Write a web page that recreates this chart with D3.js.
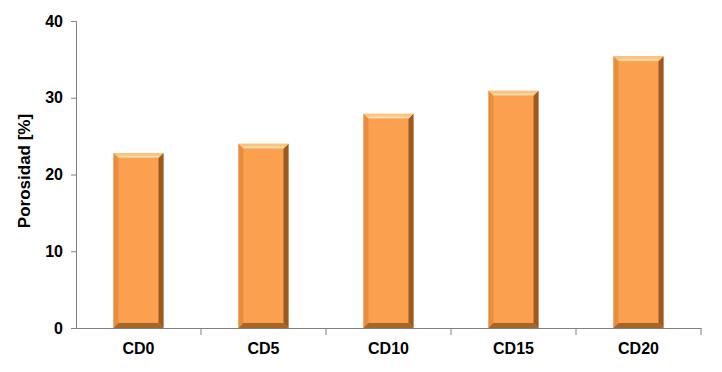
<!DOCTYPE html>
<html>
<head>
<meta charset="utf-8">
<script src="https://cdn.jsdelivr.net/npm/d3@7"></script>
<style>
  body { margin: 0; background: #fff; }
  svg text { font-family: "Liberation Sans", Arial, sans-serif; font-weight: bold; fill: #000; }
</style>
</head>
<body>
<svg id="chart" width="722" height="372"></svg>
<script>
  // values
  var categories = ["CD0", "CD5", "CD10", "CD15", "CD20"];
  var porosidad = [22.8, 24.0, 27.9, 30.9, 35.4];
  var yTicks = [0, 10, 20, 30, 40];

  (function() {
  var svg = d3.select("#chart");
  var mLeft = 76, mRight = 701, mTop = 21, mBottom = 328;

  var x = d3.scaleBand().domain(categories).range([mLeft, mRight]).paddingInner(0.6).paddingOuter(0.3);
  var xb = d3.scaleBand().domain(categories).range([mLeft, mRight]);
  var y = d3.scaleLinear().domain([0, 40]).range([mBottom, mTop]);

  var bev = 5;
  var bars = svg.selectAll("g.bar").data(categories).enter().append("g").attr("class", "bar");

  bars.each(function(c, i) {
    var g = d3.select(this);
    var x0 = x(c), x1 = x(c) + x.bandwidth(), y0 = y(porosidad[i]), y1 = y(0);
    g.append("rect").attr("x", x0).attr("y", y0).attr("width", x1 - x0).attr("height", y1 - y0)
      .attr("fill", "#fba04f");
    // left bevel
    g.append("polygon").attr("points", [[x0, y0], [x0 + bev, y0 + bev], [x0 + bev, y1 - bev], [x0, y1]].join(" "))
      .attr("fill", "#e88d3f");
    // right bevel
    g.append("polygon").attr("points", [[x1, y0], [x1 - bev, y0 + bev], [x1 - bev, y1 - bev], [x1, y1]].join(" "))
      .attr("fill", "#9a5a22");
    // bottom bevel
    g.append("polygon").attr("points", [[x0, y1], [x0 + bev, y1 - bev], [x1 - bev, y1 - bev], [x1, y1]].join(" "))
      .attr("fill", "#a8652a");
    // top bevel
    g.append("polygon").attr("points", [[x0, y0], [x0 + bev, y0 + bev], [x1 - bev, y0 + bev], [x1, y0]].join(" "))
      .attr("fill", "#fdc27e");
    g.append("line").attr("x1", x0 + bev).attr("x2", x1 - bev).attr("y1", y0 + bev - 1.5).attr("y2", y0 + bev - 1.5)
      .attr("stroke", "#ffe0b0").attr("stroke-width", 1.5);
  });

  // y axis
  var yAxis = svg.append("g").attr("transform", "translate(" + mLeft + ",0)")
    .call(d3.axisLeft(y).tickValues(yTicks).tickSize(5).tickPadding(8));
  yAxis.select(".domain").attr("stroke", "#808080");
  yAxis.selectAll(".tick line").attr("stroke", "#808080");
  yAxis.selectAll("text").attr("font-size", 16).attr("fill", "#000");

  // x axis with ticks at category boundaries
  var xAxis = svg.append("g").attr("transform", "translate(0," + mBottom + ")")
    .call(d3.axisBottom(xb).tickSize(0).tickPadding(15).tickSizeOuter(0));
  xAxis.select(".domain").attr("stroke", "#808080");
  xAxis.selectAll("text").attr("font-size", 16).attr("fill", "#000");
  xAxis.selectAll("line.bound").data(categories).enter().append("line").attr("class", "bound")
    .attr("x1", function(c) { return xb(c) + xb.bandwidth(); })
    .attr("x2", function(c) { return xb(c) + xb.bandwidth(); })
    .attr("y1", 0).attr("y2", 7).attr("stroke", "#808080");

  svg.append("text").attr("transform", "translate(30,171) rotate(-90)")
    .attr("text-anchor", "middle").attr("font-size", 17).text("Porosidad [%]");
  })();
</script>
</body>
</html>
